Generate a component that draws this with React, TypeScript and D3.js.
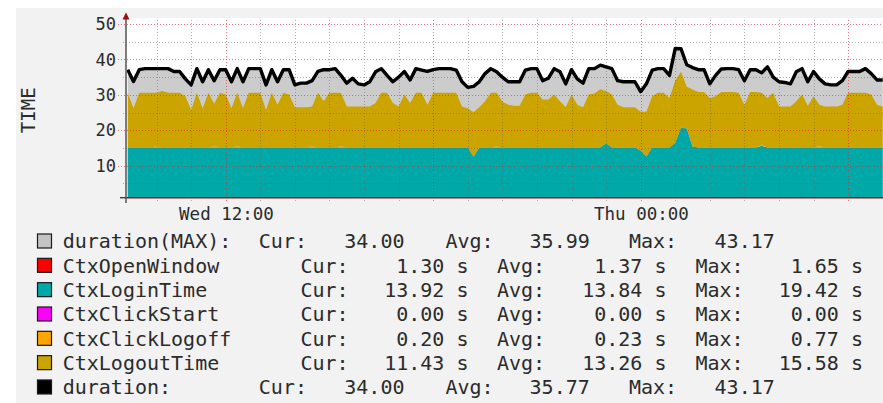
import React from 'react';
import * as d3 from 'd3';

// samples every 10 minutes, starting Wed 09:10
const startTime = new Date(2013, 0, 16, 9, 10);
const stepMinutes = 10;

const ctxLoginTime = [
  15.1, 15.1, 15.1, 15.1, 15.1, 15.1, 15.1, 15.1, 15.1, 15.1,
  15.1, 15.1, 15.1, 15.1, 15.1, 15.1, 15.1, 15.1, 15.1, 15.1,
  15.1, 15.1, 15.1, 15.1, 15.1, 15.1, 15.1, 15.1, 15.1, 15.1,
  15.1, 15.1, 15.1, 15.1, 15.1, 15.1, 15.1, 15.1, 15.1, 15.1,
  15.1, 15.1, 15.1, 15.1, 15.1, 15.1, 15.1, 15.1, 15.1, 15.1,
  15.1, 15.1, 15.1, 15.1, 15.1, 15.1, 15.1, 15.1, 15.1, 15.1,
  12.5, 15.1, 15.1, 15.1, 15.1, 15.1, 15.1, 15.1, 15.1, 15.1,
  15.1, 15.1, 15.1, 15.1, 15.1, 15.1, 15.1, 15.1, 15.1, 15.1,
  15.1, 15.1, 15.1, 16.3, 15.1, 15.1, 15.1, 15.1, 15.1, 14.3,
  12.6, 15.1, 15.1, 15.1, 15.1, 16.5, 20.8, 20.5, 15.4, 15.1,
  15.1, 15.1, 15.1, 15.1, 15.1, 15.1, 15.1, 15.1, 15.1, 15.1,
  15.6, 15.1, 15.1, 15.1, 15.1, 15.1, 15.1, 15.1, 15.1, 15.1,
  15.1, 15.1, 15.1, 15.1, 15.1, 15.1, 15.1, 15.1, 15.1, 15.1,
  15.1, 15.1
];

const ctxClickLogoff = [
  0, 0, 0, 0, 0, 0.4, 0, 0, 0, 0,
  0, 0, 0, 0, 0, 0.4, 0, 0, 0, 0.4,
  0, 0, 0, 0, 0, 0, 0, 0, 0, 0,
  0, 0, 0.4, 0, 0, 0, 0, 0.4, 0, 0,
  0, 0, 0, 0, 0, 0, 0, 0, 0, 0,
  0, 0, 0, 0, 0, 0, 0, 0, 0, 0,
  0, 0, 0, 0, 0.4, 0, 0, 0, 0, 0,
  0, 0, 0, 0, 0, 0, 0, 0, 0, 0,
  0, 0, 0, 0, 0, 0, 0, 0, 0, 0,
  0, 0, 0, 0, 0, 0, 0, 0, 0, 0,
  0, 0, 0, 0, 0, 0, 0, 0, 0, 0,
  0.4, 0, 0, 0, 0, 0, 0, 0, 0, 0,
  0.4, 0, 0, 0, 0, 0, 0, 0, 0, 0,
  0, 0
];

const ctxLogoutTime = [
  15.5, 11.1, 15.5, 15.5, 15.5, 15.1, 16.0, 15.5, 15.5, 15.5,
  14.5, 10.6, 15.5, 11.1, 15.5, 12.0, 15.5, 15.0, 11.1, 15.1,
  11.1, 15.5, 15.5, 15.5, 10.6, 15.5, 12.1, 15.5, 15.0, 11.4,
  11.4, 11.4, 11.2, 15.5, 13.1, 15.5, 15.5, 15.1, 11.6, 11.6,
  11.6, 11.6, 11.6, 12.6, 15.5, 15.5, 12.6, 11.6, 15.0, 12.6,
  15.5, 15.5, 12.1, 15.5, 15.5, 15.5, 15.5, 15.5, 11.6, 11.1,
  12.6, 11.4, 13.1, 15.5, 15.1, 13.0, 12.1, 11.8, 11.8, 15.0,
  15.5, 15.5, 13.6, 13.6, 15.0, 13.1, 11.4, 15.0, 12.1, 11.4,
  15.0, 15.3, 16.5, 14.8, 15.0, 12.1, 11.4, 11.4, 11.4, 10.9,
  12.6, 14.5, 15.5, 15.5, 14.0, 17.5, 15.7, 11.8, 16.1, 15.7,
  15.7, 14.0, 14.5, 15.7, 15.7, 15.7, 15.5, 12.1, 15.7, 15.7,
  14.6, 14.0, 15.5, 11.6, 11.6, 11.6, 13.1, 15.0, 11.8, 14.5,
  11.7, 11.6, 11.6, 11.6, 12.1, 15.5, 15.5, 15.5, 15.5, 15.0,
  12.1, 11.6
];

const duration = [
  37.1, 33.8, 37.1, 37.4, 37.4, 37.4, 37.4, 37.4, 36.6, 36.6,
  34.5, 32.8, 37.4, 33.7, 37.1, 34.0, 37.1, 37.1, 33.7, 37.4,
  33.7, 37.4, 37.4, 37.4, 32.8, 37.1, 33.7, 37.1, 37.1, 32.8,
  33.3, 33.3, 34.0, 36.6, 37.1, 37.1, 37.4, 35.5, 33.3, 34.7,
  33.1, 32.8, 33.7, 36.5, 37.4, 35.5, 33.7, 35.0, 36.6, 34.2,
  37.4, 37.0, 36.6, 37.1, 37.4, 37.4, 37.4, 37.0, 33.7, 32.1,
  32.4, 33.7, 36.0, 37.4, 36.5, 35.0, 33.7, 33.7, 33.7, 37.0,
  37.4, 37.4, 34.0, 34.7, 37.4, 36.5, 33.1, 37.1, 34.5, 33.3,
  37.4, 37.4, 38.4, 37.9, 37.4, 34.0, 33.7, 33.7, 33.7, 30.9,
  33.1, 37.0, 37.4, 37.4, 35.5, 43.1, 43.0, 38.5, 37.7, 37.1,
  37.1, 33.1, 35.5, 37.3, 37.4, 37.4, 37.1, 34.0, 37.1, 37.1,
  36.2, 37.9, 35.0, 33.7, 33.5, 33.1, 36.5, 37.4, 33.7, 36.6,
  34.5, 33.1, 32.8, 32.8, 34.0, 36.6, 36.6, 36.6, 37.4, 36.0,
  34.2, 34.2
];

// legend
const legendNames = ['duration(MAX):', 'CtxOpenWindow', 'CtxLoginTime', 'CtxClickStart', 'CtxClickLogoff', 'CtxLogoutTime', 'duration:'];
const legendColors = ['#c4c4c4', '#ff0000', '#00a8a8', '#ff00ff', '#ffa500', '#cca400', '#000000'];
const legendCur = [34.0, 1.3, 13.92, 0.0, 0.2, 11.43, 34.0];
const legendAvg = [35.99, 1.37, 13.84, 0.0, 0.23, 13.26, 35.77];
const legendMax = [43.17, 1.65, 19.42, 0.0, 0.77, 15.58, 43.17];
const legendUnits = ['', ' s', ' s', ' s', ' s', ' s', ''];

const W = 883;
const H = 403;
const plotLeft = 127;
const plotRight = 883;
const plotTop = 18;
const plotBottom = 197.7;

const mono = 'DejaVu Sans Mono, monospace';
const textColor = '#2b2b2b';
const majorGrid = 'rgba(235,30,30,0.6)';
const minorGrid = 'rgba(100,100,100,0.5)';

export default function App() {
  const x = d3.scaleTime()
    .domain([new Date(2013, 0, 16, 9, 0), new Date(2013, 0, 17, 7, 0)])
    .range([121.96, 882.72]);
  const y = d3.scaleLinear().domain([0, 50]).range([201.1, 24]);

  const rows = duration.map((d, i) => ({
    time: d3.timeMinute.offset(startTime, i * stepMinutes),
    login: ctxLoginTime[i],
    logoff: ctxClickLogoff[i],
    logout: ctxLogoutTime[i],
    duration: d
  }));

  const layers = d3.stack<any>().keys(['login', 'logoff', 'logout'])(rows);
  const layerColors = ['#00a8a8', '#ffa500', '#cca400'];

  const band = d3.area<any>()
    .x(d => x(d.data.time))
    .y0(d => y(d[0]))
    .y1(d => y(d[1]));

  const maxArea = d3.area<any>()
    .x(d => x(d.time))
    .y0(y(0))
    .y1(d => y(d.duration));

  const durLine = d3.line<any>()
    .x(d => x(d.time))
    .y(d => y(d.duration));

  const hours = d3.timeHour.range(x.domain()[0], x.domain()[1]).filter(h => x(h) > plotLeft + 1);
  const yTicks = y.ticks(10).filter(v => v > 0);

  const rowY = (i: number) => 248.3 + i * 24.33;

  return (
    <svg width={W} height={H} style={{ position: 'absolute', left: 0, top: 0 }}>
      <defs>
        <clipPath id="plot">
          <rect x={plotLeft} y={plotTop} width={plotRight - plotLeft} height={plotBottom - plotTop} />
        </clipPath>
      </defs>
      <rect x={0} y={0} width={W} height={H} fill="#ffffff" />
      <rect x={16} y={8} width={W - 16} height={H - 8} fill="#f2f2f2" />
      <rect x={plotLeft} y={plotTop} width={plotRight - plotLeft} height={plotBottom - plotTop} fill="#ffffff" />

      <g clipPath="url(#plot)">
        <path d={maxArea(rows) || ''} fill="#cccccc" />
        {layers.map((layer, k) => (
          <path key={k} d={band(layer as any) || ''} fill={layerColors[k]} />
        ))}
      </g>

      {/* grid */}
      {yTicks.map(v => (
        <line key={'h' + v} x1={v % 10 === 0 ? 118 : 123} x2={plotRight} y1={Math.round(y(v)) + 0.5} y2={Math.round(y(v)) + 0.5}
          stroke={v % 10 === 0 ? majorGrid : minorGrid}
          strokeWidth={1} strokeDasharray="1,2" />
      ))}
      {hours.map(h => (
        <line key={'v' + h.getTime()} x1={Math.round(x(h)) + 0.5} x2={Math.round(x(h)) + 0.5} y1={20} y2={201.5}
          stroke={h.getHours() % 6 === 0 ? majorGrid : minorGrid}
          strokeWidth={1} strokeDasharray="1,2" />
      ))}

      <g clipPath="url(#plot)">
        <path d={durLine(rows) || ''} fill="none" stroke="#000" strokeWidth={3.4} strokeLinejoin="round" />
      </g>

      {/* axes */}
      <line x1={plotLeft} x2={plotRight} y1={plotBottom} y2={plotBottom} stroke="#8b1010" strokeWidth={1.5} />
      <line x1={120} x2={plotLeft} y1={plotBottom} y2={plotBottom} stroke="#444" strokeWidth={1.5} />
      <line x1={126} x2={126} y1={18} y2={203} stroke="#555" strokeWidth={1.5} />
      <path d="M122.5,19.5 L126,12.5 L129.5,19.5 Z" fill="#9b1111" />

      {yTicks.filter(v => v % 10 === 0).map(v => (
        <text key={'yt' + v} x={116} y={y(v)} dy="0.36em" textAnchor="end"
          fontFamily={mono} fontSize={17} fill={textColor}>{v}</text>
      ))}
      {hours.filter(h => h.getHours() % 12 === 0).map(h => (
        <text key={'xt' + h.getTime()} x={x(h) + 0.8} y={220} textAnchor="middle"
          fontFamily={mono} fontSize={17.5} fill={textColor}>{d3.timeFormat('%a %H:%M')(h)}</text>
      ))}
      <text transform="translate(35,110.3) rotate(-90)" textAnchor="middle"
        fontFamily={mono} fontSize={19} fill={textColor}>TIME</text>

      {/* legend */}
      {legendNames.map((name, i) => {
        const by = rowY(i);
        const wide = legendUnits[i] === '';
        const curX = wide ? 258.8 : 300.4;
        const curEnd = wide ? 404.5 : 468.5;
        const avgX = wide ? 445.5 : 497;
        const avgEnd = wide ? 589.8 : 666.5;
        const maxX = wide ? 629 : 695.5;
        const maxEnd = wide ? 774.8 : 863;
        const common = { fontFamily: mono, fontSize: 20, fill: textColor, y: by, style: { whiteSpace: 'pre' } as any };
        return (
          <g key={name}>
            <rect x={37.5} y={by - 14.3} width={14} height={14} fill={legendColors[i]} stroke="#1a1a1a" strokeWidth={1.2} />
            <text {...common} x={62.7}>{name}</text>
            <text {...common} x={curX}>Cur:</text>
            <text {...common} x={curEnd} textAnchor="end">{legendCur[i].toFixed(2) + legendUnits[i]}</text>
            <text {...common} x={avgX}>Avg:</text>
            <text {...common} x={avgEnd} textAnchor="end">{legendAvg[i].toFixed(2) + legendUnits[i]}</text>
            <text {...common} x={maxX}>Max:</text>
            <text {...common} x={maxEnd} textAnchor="end">{legendMax[i].toFixed(2) + legendUnits[i]}</text>
          </g>
        );
      })}
    </svg>
  );
}
